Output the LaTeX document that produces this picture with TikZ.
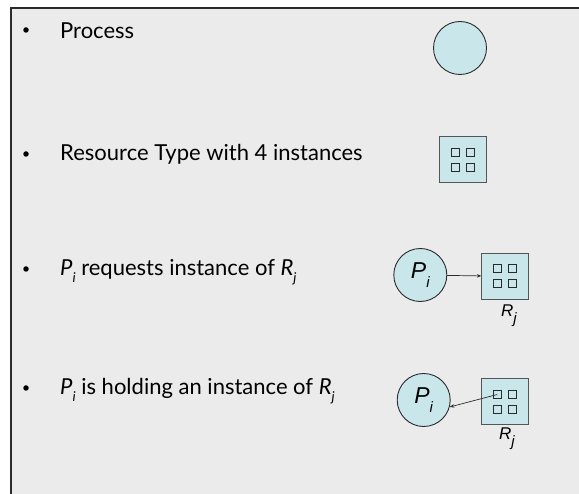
\documentclass[tikz,border=0pt]{standalone}
\usepackage{fontspec}
\setmainfont{Lato}
\newfontfamily\arialf{Liberation Sans}
\usetikzlibrary{arrows.meta}
\definecolor{bg}{HTML}{EBEBEB}
\definecolor{fillc}{HTML}{C9E6EA}
\definecolor{edge}{HTML}{2A2A2A}
\newcommand\pit[2]{\textit{#1}\raisebox{-0.3em}{\fontsize{13.5}{13.5}\selectfont\itshape #2}}
\newcommand\psub[2]{#1\raisebox{-0.42em}{\fontsize{15}{15}\selectfont #2}}
\begin{document}
\begin{tikzpicture}[x=1pt,y=-1pt,
  proc/.style={circle,draw=edge,fill=fillc,line width=0.9pt,minimum size=53pt,inner sep=0pt,font=\arialf\itshape\fontsize{23}{23}\selectfont},
  res/.style={rectangle,draw=edge!80,fill=fillc,line width=1pt,minimum width=47pt,minimum height=46pt,inner sep=0pt},
  inst/.style={rectangle,draw=edge,line width=0.8pt,minimum size=8pt,inner sep=0pt},
  bul/.style={circle,fill=black,minimum size=5.5pt,inner sep=0pt},
  item/.style={anchor=base west,inner sep=0pt,font=\fontsize{22}{26}\selectfont},
  lbl/.style={font=\arialf\itshape\fontsize{17}{17}\selectfont,inner sep=0pt},
  edgearrow/.style={-{Stealth[length=4.5pt,width=3.5pt]},line width=0.7pt,draw=edge}
]
\useasboundingbox (0,0) rectangle (579,494);
\fill[white] (0,0) rectangle (579,494);
\fill[bg] (11,8) rectangle (579,494);
\draw[line width=1.5pt,edge] (11,494) -- (11,8) -- (579,8);

% bullets
\node[bul] (b1) at (26,30) {};
\node[bul] (b2) at (26,154) {};
\node[bul] (b3) at (26,269) {};
\node[bul] (b4) at (26,388) {};

% texts
\node[item] (t1) at (60,38.3) {Process};
\node[item] (t2) at (60,160.7) {Resource Type with 4 instances};
\node[item] (t3) at (60,275.5) {\pit{P}{i} requests instance of \pit{R}{j}};
\node[item] (t4) at (60,394.5) {\pit{P}{i} is holding an instance of \pit{R}{j}};

% row 1: process
\node[proc] (c1) at (460,48) {};

% row 2: resource
\node[res] (r1) at (462.5,159.5) {};
\node[inst] (i1a) at ([shift={(-7.5,-7.5)}]r1.center) {};
\node[inst] (i1b) at ([shift={(7.5,-7.5)}]r1.center) {};
\node[inst] (i1c) at ([shift={(-7.5,7.5)}]r1.center) {};
\node[inst] (i1d) at ([shift={(7.5,7.5)}]r1.center) {};

% row 3: request
\node[proc] (p3) at (420.3,275) {\psub{P}{i}};
\node[res] (r3) at (505.3,276.3) {};
\node[inst] (i3a) at ([shift={(-7.5,-7.5)}]r3.center) {};
\node[inst] (i3b) at ([shift={(7.5,-7.5)}]r3.center) {};
\node[inst] (i3c) at ([shift={(-7.5,7.5)}]r3.center) {};
\node[inst] (i3d) at ([shift={(7.5,7.5)}]r3.center) {};
\node[lbl] (rl3) at (509,316) {\psub{R}{j}};
\draw[edgearrow] (p3) -- (r3);

% row 4: holding
\node[proc] (p4) at (423.7,400) {\psub{P}{i}};
\node[res] (r4) at (504.7,402) {};
\node[inst] (i4a) at ([shift={(-7.5,-7.5)}]r4.center) {};
\node[inst] (i4b) at ([shift={(7.5,-7.5)}]r4.center) {};
\node[inst] (i4c) at ([shift={(-7.5,7.5)}]r4.center) {};
\node[inst] (i4d) at ([shift={(7.5,7.5)}]r4.center) {};
\node[lbl] (rl4) at (507,438.5) {\psub{R}{j}};
\draw[edgearrow] (i4a.center) -- (p4.-15);
\end{tikzpicture}
\end{document}
